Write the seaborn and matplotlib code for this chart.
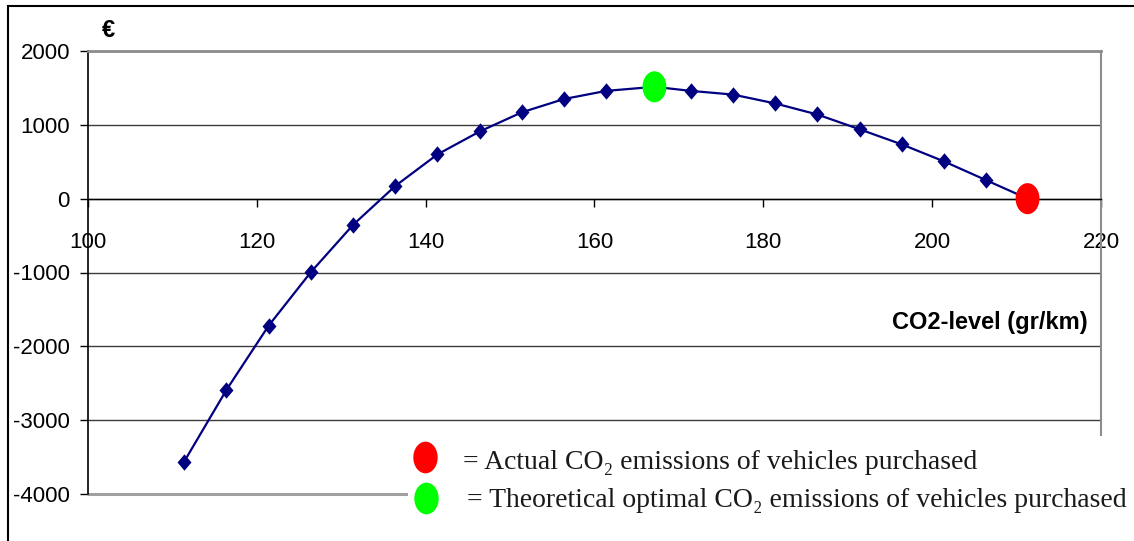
import numpy as np
import pandas as pd
import matplotlib
matplotlib.use("Agg")
import matplotlib.pyplot as plt
import seaborn as sns
from matplotlib.path import Path
from matplotlib.patches import Rectangle

# ---------------- data ----------------
co2_levels = [111.4, 116.4, 121.4, 126.4, 131.4, 136.4, 141.4, 146.4, 151.4, 156.4,
              161.4, 171.4, 176.4, 181.4, 186.4, 191.4, 196.4, 201.4, 206.4]
savings = [-3560, -2590, -1720, -995, -355, 172, 600, 910, 1170, 1350,
           1460, 1460, 1410, 1290, 1140, 940, 735, 505, 250]
optimal_co2 = [167.1]
optimal_saving = [1515]
actual_co2 = [211.3]
actual_saving = [0]
x_ticks = [100, 120, 140, 160, 180, 200, 220]
y_ticks = [-4000, -3000, -2000, -1000, 0, 1000, 2000]
legend_labels = ["= Actual CO\u2082 emissions of vehicles purchased",
                 "= Theoretical optimal CO\u2082 emissions of vehicles purchased"]
x_label = "CO2-level (gr/km)"
y_label = "\u20ac"

# ---------------- style ----------------
sns.set_theme(style="ticks")
plt.rcParams["font.family"] = ["Liberation Sans", "DejaVu Sans"]
plt.rcParams["axes.unicode_minus"] = False

W, H = 1134, 541
fig = plt.figure(figsize=(W / 100, H / 100), dpi=100)
fig.patch.set_facecolor("white")
ax = fig.add_axes([88 / W, 1 - 494 / H, (1101 - 88) / W, (494 - 51) / H])
ax.set_facecolor("white")

navy = "#000080"
diamond = Path([(0, 1), (0.85, 0), (0, -1), (-0.85, 0), (0, 1)],
               [Path.MOVETO, Path.LINETO, Path.LINETO, Path.LINETO, Path.CLOSEPOLY])
uc = Path.unit_circle()
ellipse = Path(uc.vertices * np.array([0.77, 1.0]), uc.codes)

diamonds = pd.DataFrame({"co2": co2_levels, "saving": savings})
optimal = pd.DataFrame({"co2": optimal_co2, "saving": optimal_saving})
actual = pd.DataFrame({"co2": actual_co2, "saving": actual_saving})
curve = pd.concat([diamonds, optimal, actual]).sort_values("co2").reset_index(drop=True)

sns.lineplot(data=curve, x="co2", y="saving", color=navy, linewidth=1.6,
             sort=True, ax=ax, zorder=3)
sns.scatterplot(data=diamonds, x="co2", y="saving", marker=diamond, s=140,
                color=navy, edgecolor=navy, linewidth=0, ax=ax, zorder=4)
sns.scatterplot(data=optimal, x="co2", y="saving", marker=ellipse, s=500,
                color="#00ff00", edgecolor="none", linewidth=0, ax=ax, zorder=5)
sns.scatterplot(data=actual, x="co2", y="saving", marker=ellipse, s=500,
                color="#ff0000", edgecolor="none", linewidth=0, ax=ax, zorder=5)

ax.set_xlim(100, 220)
ax.set_ylim(-4000, 2000)
ax.set_xticks(x_ticks)
ax.set_yticks(y_ticks)

ax.spines["bottom"].set_position(("data", 0))
ax.spines["bottom"].set_color("black")
ax.spines["bottom"].set_linewidth(1.0)
ax.spines["left"].set_color("black")
ax.spines["left"].set_linewidth(1.2)
ax.spines["top"].set_visible(True)
ax.spines["right"].set_visible(True)
ax.spines["top"].set_color("#8c8c8c")
ax.spines["top"].set_linewidth(2.0)
ax.spines["right"].set_color("#8c8c8c")
ax.spines["right"].set_linewidth(1.5)
ax.yaxis.grid(True, color="#3c3c3c", linewidth=1.0)
ax.xaxis.grid(False)
ax.set_axisbelow(True)
ax.axhline(-4000, color="#a0a0a0", linewidth=2.2, zorder=1, clip_on=False)

ax.tick_params(axis="x", bottom=True, direction="out", length=6, width=1,
               color="black", pad=18, labelsize=16, labelcolor="black")
ax.tick_params(axis="y", left=True, direction="out", length=6, width=1,
               color="black", pad=7, labelsize=16, labelcolor="black")

ax.set_xlabel(x_label, fontsize=17, fontweight="bold", color="black", ha="right", va="center")
ax.xaxis.set_label_coords(0.987, 0.388)
ax.set_ylabel(y_label, fontsize=17, fontweight="bold", color="black", rotation=0,
              ha="center", va="center")
ax.yaxis.set_label_coords(0.0197, 1.047)

# outer frame
fig.add_artist(Rectangle((8 / W, -0.1), 1.2, 1.1 - 6 / H, transform=fig.transFigure,
                         fill=False, edgecolor="black", linewidth=1.5, clip_on=False))

# legend overlay (pasted image in original)
lax = fig.add_axes([408 / W, 0, 1 - 408 / W, 105 / H], zorder=10)
lax.set_facecolor("white")
lax.set_xlim(408, W)
lax.set_ylim(H, 436)
lax.set_xticks([])
lax.set_yticks([])
for s in lax.spines.values():
    s.set_visible(False)
lax.scatter([425], [457], marker=ellipse, s=520, color="#ff0000", linewidths=0)
lax.scatter([426], [497.5], marker=ellipse, s=520, color="#00ff00", linewidths=0)
serif = ["Liberation Serif", "DejaVu Serif"]
lax.text(463, 469, legend_labels[0], fontsize=20, family=serif, color="#1a1a1a",
         ha="left", va="baseline")
lax.text(467, 507, legend_labels[1], fontsize=20, family=serif, color="#1a1a1a",
         ha="left", va="baseline")

fig.savefig("out.png", dpi=100, facecolor="white")
